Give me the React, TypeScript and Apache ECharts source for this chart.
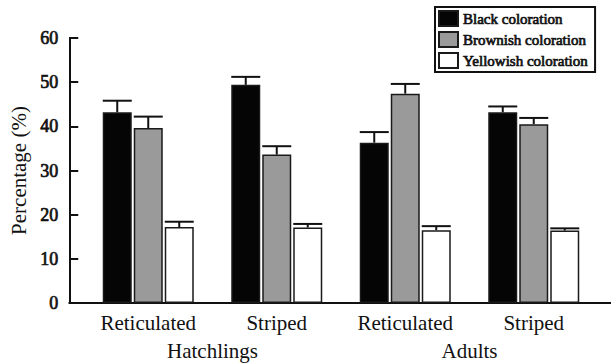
import React, { useEffect, useRef } from "react";
import * as echarts from "echarts";

const categories = ["Reticulated", "Striped", "Reticulated", "Striped"];
const groupLabels = ["Hatchlings", "Adults"];
const seriesNames = ["Black coloration", "Brownish coloration", "Yellowish coloration"];
const blackValues = [43.2, 49.4, 36.3, 43.2];
const blackErrors = [2.6, 1.8, 2.4, 1.3];
const brownishValues = [39.6, 33.6, 47.4, 40.5];
const brownishErrors = [2.6, 1.9, 2.2, 1.4];
const yellowishValues = [17.2, 17.1, 16.5, 16.4];
const yellowishErrors = [1.2, 0.8, 0.9, 0.5];
const yTicks = [0, 10, 20, 30, 40, 50, 60];

const SERIF = "'Liberation Serif', 'Times New Roman', serif";
const BAR_WIDTH = 29;
const BAR_GAP_PX = 2;
const COLORS = ["#050505", "#9a9a9a", "#ffffff"];

// faux-bold serif (stroke on regular serif glyphs)
const boldSerif = (size: number) => ({
  fontFamily: SERIF,
  fontSize: size,
  fontWeight: "normal",
  color: "#111",
  textBorderColor: "#111",
  textBorderWidth: 0.7,
});

export default function App() {
  const ref = useRef<HTMLDivElement>(null);
  useEffect(() => {
    if (!ref.current) return;
    const chart = echarts.init(ref.current, undefined, { renderer: "svg" });
    const values = [blackValues, brownishValues, yellowishValues];
    const errors = [blackErrors, brownishErrors, yellowishErrors];
    const yMin = yTicks[0];
    const yMax = yTicks[yTicks.length - 1];
    const yInterval = yTicks[1] - yTicks[0];

    const barSeries = values.map((vals, i) => ({
      name: seriesNames[i],
      type: "bar",
      xAxisIndex: 0,
      yAxisIndex: 0,
      barWidth: BAR_WIDTH,
      barGap: ((BAR_GAP_PX / BAR_WIDTH) * 100).toFixed(1) + "%",
      data: vals,
      itemStyle: {
        color: COLORS[i],
        borderColor: "#1a1a1a",
        borderWidth: 1.5,
      },
      z: 2,
    }));

    const errSeries = values.map((vals, i) => ({
      name: seriesNames[i] + " error",
      type: "custom",
      xAxisIndex: 0,
      yAxisIndex: 0,
      z: 5,
      data: vals.map((v, j) => [j, v, errors[i][j]]),
      renderItem: (params: any, api: any) => {
        const cat = api.value(0);
        const v = api.value(1);
        const e = api.value(2);
        const base = api.coord([cat, v]);
        const top = api.coord([cat, v + e]);
        const off = (i - 1) * (BAR_WIDTH + BAR_GAP_PX);
        const x = base[0] + off;
        const style = { stroke: "#111", lineWidth: 2 };
        return {
          type: "group",
          children: [
            { type: "line", shape: { x1: x, y1: base[1], x2: x, y2: top[1] }, style },
            {
              type: "line",
              shape: { x1: x - BAR_WIDTH / 2, y1: top[1], x2: x + BAR_WIDTH / 2, y2: top[1] },
              style,
            },
          ],
        };
      },
    }));

    chart.setOption({
      animation: false,
      backgroundColor: "#ffffff",
      legend: {
        data: seriesNames,
        orient: "vertical",
        left: 435,
        top: 7,
        itemWidth: 19,
        itemHeight: 15,
        itemGap: 4,
        padding: [3, 7, 3, 3],
        borderColor: "#111",
        borderWidth: 2,
        backgroundColor: "#fff",
        icon: "rect",
        textStyle: boldSerif(15),
      },
      grid: [
        { left: 84, right: 13, top: 38, bottom: 61 },
        { left: 68, right: -2, top: 38, bottom: 61 },
      ],
      xAxis: [
        {
          type: "category",
          gridIndex: 0,
          data: categories,
          axisLine: { show: false },
          axisTick: { show: false },
          axisLabel: { fontFamily: SERIF, fontSize: 21, color: "#111", margin: 9 },
        },
        {
          type: "category",
          gridIndex: 0,
          position: "bottom",
          offset: 28,
          data: groupLabels,
          axisLine: { show: false },
          axisTick: { show: false },
          axisLabel: { fontFamily: SERIF, fontSize: 21, color: "#111", margin: 9 },
        },
        {
          type: "value",
          gridIndex: 1,
          min: 0,
          max: 1,
          axisLine: { show: true, lineStyle: { color: "#111", width: 2 } },
          axisTick: { show: false },
          axisLabel: { show: false },
          splitLine: { show: false },
        },
      ],
      yAxis: [
        {
          type: "value",
          gridIndex: 0,
          min: yMin,
          max: yMax,
          interval: yInterval,
          axisLine: { show: false },
          axisTick: { show: false },
          axisLabel: { show: false },
          splitLine: { show: false },
        },
        {
          type: "value",
          gridIndex: 1,
          min: yMin,
          max: yMax,
          interval: yInterval,
          name: "Percentage (%)",
          nameLocation: "middle",
          nameGap: 39,
          nameTextStyle: { fontFamily: SERIF, fontSize: 21, color: "#111" },
          axisLine: { show: true, lineStyle: { color: "#111", width: 2 } },
          axisTick: { show: true, inside: true, length: 9, lineStyle: { color: "#111", width: 2 } },
          axisLabel: { ...boldSerif(18), margin: 11 },
          splitLine: { show: false },
        },
      ],
      series: [...barSeries, ...errSeries],
    });
    return () => chart.dispose();
  }, []);
  return (
    <div
      ref={ref}
      style={{ position: "fixed", left: 0, top: 0, width: 611, height: 364, background: "#fff" }}
    />
  );
}
